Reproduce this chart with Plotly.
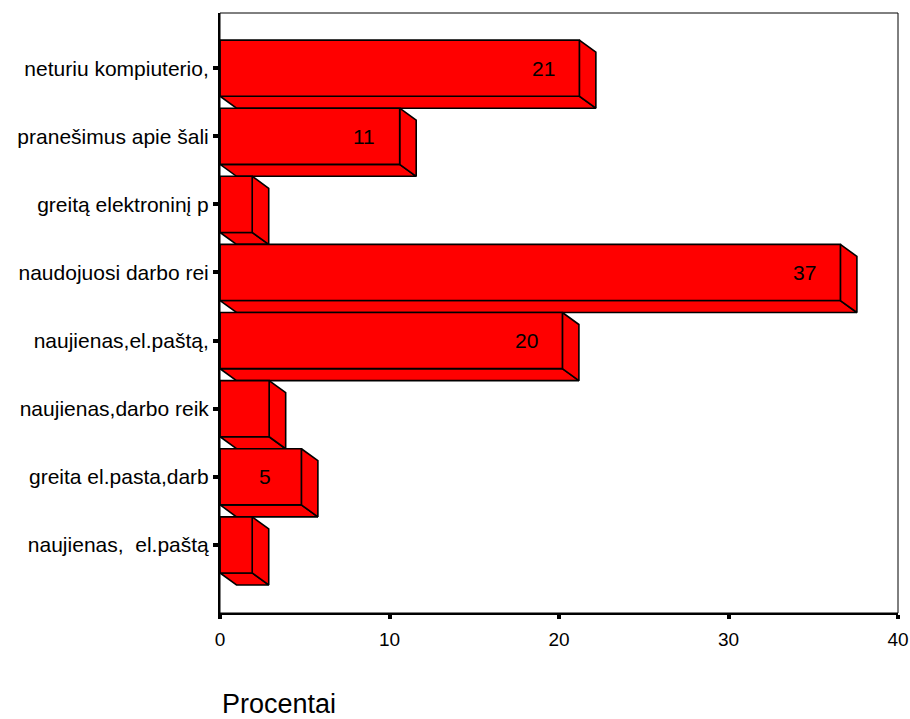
import plotly.graph_objects as go

categories = [
    "neturiu kompiuterio,",
    "pranešimus apie šali",
    "greitą elektroninį p",
    "naudojuosi darbo rei",
    "naujienas,el.paštą,",
    "naujienas,darbo reik",
    "greita el.pasta,darb",
    "naujienas,\u00a0 el.paštą",
]
percent = [21.2, 10.6, 1.9, 36.6, 20.2, 2.9, 4.8, 1.9]
x_ticks = [0, 10, 20, 30, 40]

FILL = "#ff0000"
EDGE = "black"
FONT = "Liberation Sans, Arial, Helvetica"
half_h = 0.412   # half height of front face (category units)
dx = 0.975       # 3D depth in value units
dy = 0.176       # 3D depth in category units

fig = go.Figure()
n = len(categories)
ypos = [n - 1 - i for i in range(n)]

def poly(xs, ys):
    fig.add_trace(go.Scatter(
        x=xs + [xs[0]], y=ys + [ys[0]], mode="lines", fill="toself",
        fillcolor=FILL, line=dict(color=EDGE, width=1.6),
        hoverinfo="skip", showlegend=False))

for v, yc in zip(percent, ypos):
    yt, yb = yc + half_h, yc - half_h
    poly([0, v, v + dx, dx], [yb, yb, yb - dy, yb - dy])        # bottom face
    poly([v, v + dx, v + dx, v], [yt, yt - dy, yb - dy, yb])    # right face
    poly([0, v, v, 0], [yt, yt, yb, yb])                        # front face

annotations = []
for v, yc in zip(percent, ypos):
    r = int(v + 0.5)
    if r >= 5:
        annotations.append(dict(
            x=v, y=yc, xref="x", yref="y", text=str(r),
            showarrow=False, xshift=-36, xanchor="center", yanchor="middle",
            font=dict(family=FONT, size=21, color="black")))

annotations.append(dict(
    x=0, y=-0.152, xref="paper", yref="paper", yanchor="middle", xanchor="left",
    text="Procentai", showarrow=False,
    font=dict(family=FONT, size=27, color="black")))

fig.update_layout(
    width=910, height=719,
    margin=dict(l=220, r=12, t=13, b=106, autoexpand=False),
    paper_bgcolor="white", plot_bgcolor="white",
    annotations=annotations,
    shapes=[dict(type="rect", xref="paper", yref="paper", x0=0, y0=0, x1=1, y1=1,
                 line=dict(color="black", width=1), layer="above")],
    xaxis=dict(range=[0, 40], tickvals=x_ticks, ticktext=[str(t) for t in x_ticks],
               showgrid=False, zeroline=False, showline=True, linecolor="black",
               linewidth=2, ticks="outside", ticklen=4, tickwidth=4, tickcolor="black",
               ticklabelstandoff=4, automargin=False,
               tickfont=dict(family=FONT, size=19, color="black")),
    yaxis=dict(range=[-1, n - 1 + 0.81], tickvals=ypos, ticktext=categories,
               showgrid=False, zeroline=False, showline=True, linecolor="black",
               linewidth=2, ticks="outside", ticklen=5, tickwidth=4, tickcolor="black",
               automargin=False,
               tickfont=dict(family=FONT, size=21, color="black")),
)

fig.write_html("out.html", config={"displayModeBar": False},
               post_script="document.body.style.margin='0';")
